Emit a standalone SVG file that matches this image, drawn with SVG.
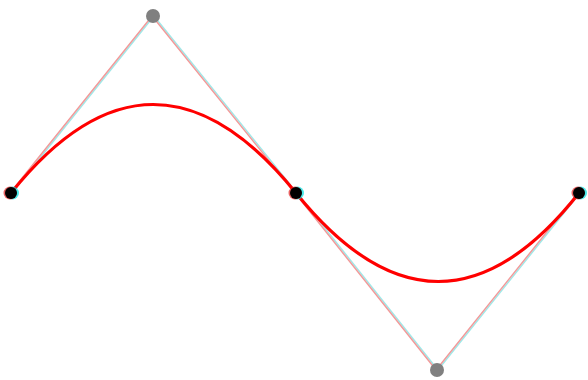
<svg xmlns="http://www.w3.org/2000/svg" width="588" height="380" viewBox="0 0 588 380">
<style>
.hull{fill:none;stroke-width:1.5}
.hr{stroke:#f29a9a}
.hc{stroke:#8fe4e4;stroke-opacity:0.85}
.curve{fill:none;stroke:#ff0000;stroke-width:3.2}
.end{fill:#000}
.ctrl{fill:#808080}
</style>
<rect width="588" height="380" fill="#fff"/>
<g id="connectors">
<polyline class="hull hc" transform="translate(0.9,0)" points="11,193 153,16 296,193 437,370 579,193"/>
<polyline class="hull hr" transform="translate(-0.9,0)" points="11,193 153,16 296,193 437,370 579,193"/>
<path id="curve" class="curve" d="M11,193 Q153,16 296,193 T579,193"/>
</g>
<g id="p0"><circle cx="12.5" cy="193" r="6.5" fill="#00e0e0" opacity="0.7"/><circle cx="10" cy="193" r="6.5" fill="#e02020" opacity="0.7"/><circle class="end" cx="11" cy="193" r="6"/></g>
<g id="c1"><circle class="ctrl" cx="153" cy="16" r="7"/></g>
<g id="p1"><circle cx="297.5" cy="193" r="6.5" fill="#00e0e0" opacity="0.7"/><circle cx="295" cy="193" r="6.5" fill="#e02020" opacity="0.7"/><circle class="end" cx="296" cy="193" r="6"/></g>
<g id="c2"><circle class="ctrl" cx="437" cy="370" r="7"/></g>
<g id="p2"><circle cx="580.5" cy="193" r="6.5" fill="#00e0e0" opacity="0.7"/><circle cx="578" cy="193" r="6.5" fill="#e02020" opacity="0.7"/><circle class="end" cx="579" cy="193" r="6"/></g>
</svg>
